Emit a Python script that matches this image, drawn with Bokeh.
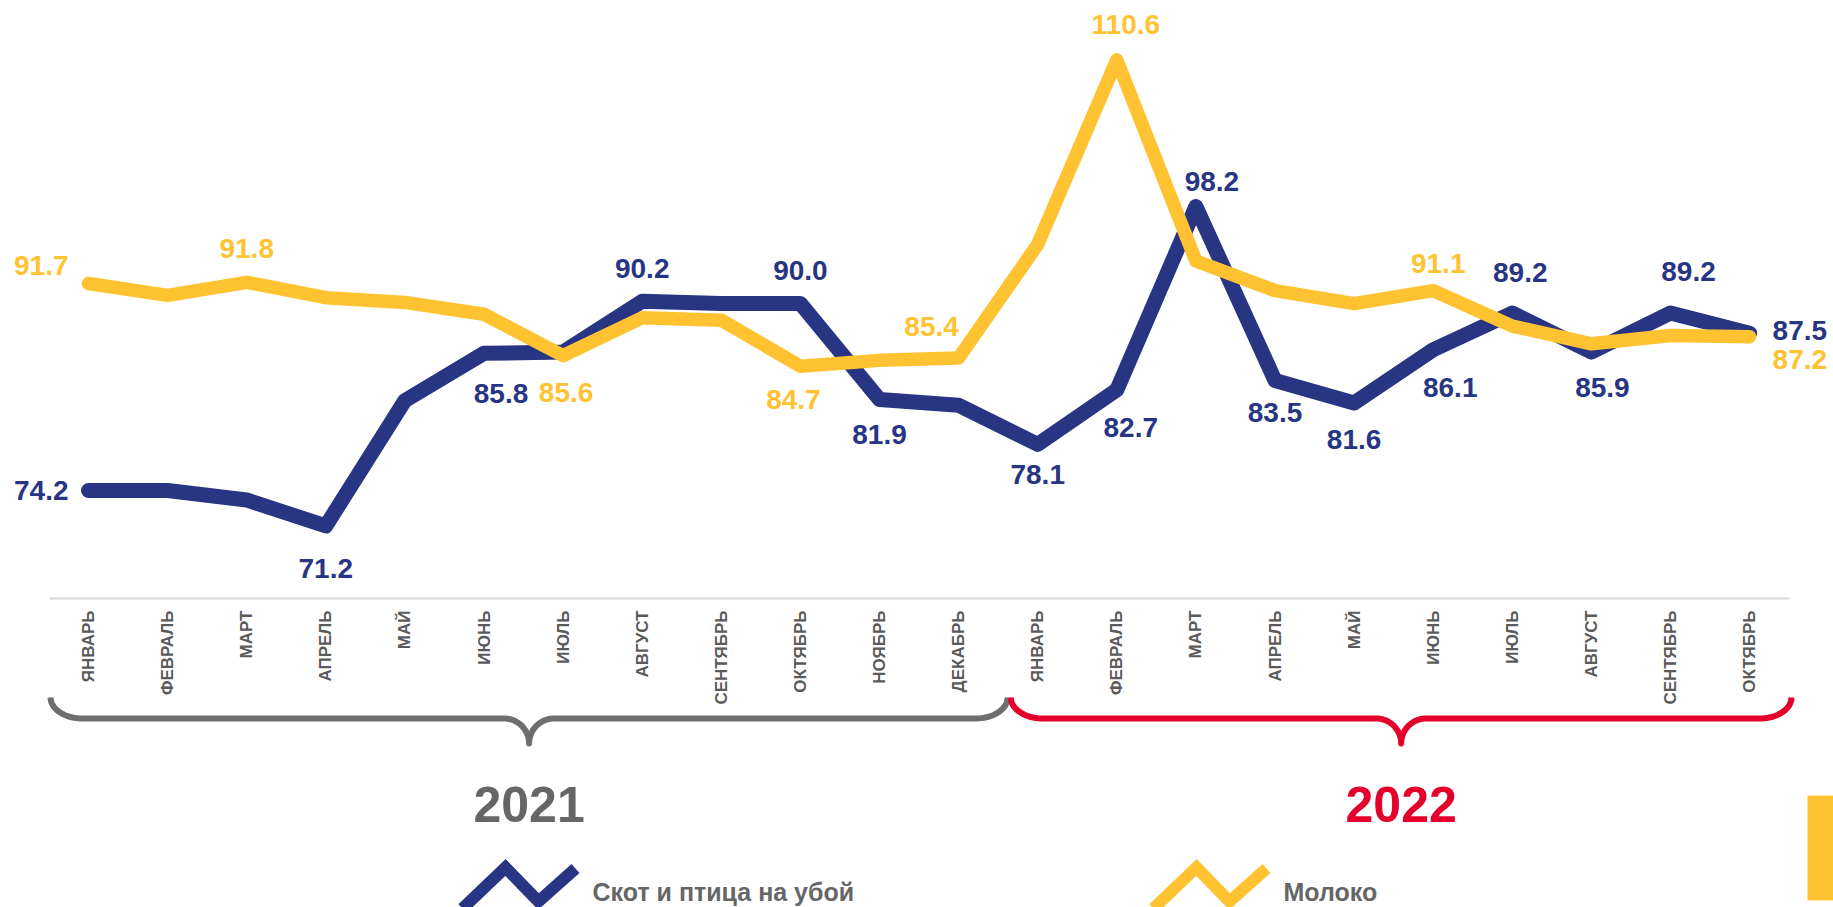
import math
import numpy as np
from bokeh.plotting import figure
from bokeh.models import Range1d
from bokeh.core.properties import value
from bokeh.embed import file_html
from bokeh.resources import INLINE

# ---------------- data ----------------
months = ["ЯНВАРЬ", "ФЕВРАЛЬ", "МАРТ", "АПРЕЛЬ", "МАЙ", "ИЮНЬ", "ИЮЛЬ", "АВГУСТ",
          "СЕНТЯБРЬ", "ОКТЯБРЬ", "НОЯБРЬ", "ДЕКАБРЬ",
          "ЯНВАРЬ", "ФЕВРАЛЬ", "МАРТ", "АПРЕЛЬ", "МАЙ", "ИЮНЬ", "ИЮЛЬ", "АВГУСТ",
          "СЕНТЯБРЬ", "ОКТЯБРЬ"]
years = ["2021", "2022"]
year_month_counts = [12, 10]
series_names = ["Скот и птица на убой", "Молоко"]

livestock = [74.2, 74.2, 73.4, 71.2, 81.8, 85.8, 85.9, 90.2, 90.0, 90.0, 81.9, 81.4,
             78.1, 82.7, 98.2, 83.5, 81.6, 86.1, 89.2, 85.9, 89.2, 87.5]
milk = [91.7, 90.7, 91.8, 90.5, 90.1, 89.1, 85.6, 88.8, 88.6, 84.7, 85.2, 85.4,
        95.0, 110.6, 93.6, 91.1, 90.0, 91.1, 88.1, 86.6, 87.3, 87.2]

# which points carry a value label
livestock_labelled = [0, 3, 5, 7, 9, 10, 12, 13, 14, 15, 16, 17, 18, 19, 20, 21]
milk_labelled = [0, 2, 6, 9, 11, 13, 17, 21]

# ---------------- styles / layout ----------------
BLUE = "#283583"
YELLOW = "#FFC231"
RED = "#E4002B"
GRAY_TXT = "#666666"
GRAY_BRACE = "#6E6E6E"
MONTH_COL = "#5A5A5A"
FONT = "Liberation Sans"

W, H = 1833, 907
X0_PX, STEP = 88.0, 79.1          # page px of first month, px per month
REF_V, REF_PX, PXU = 74.2, 490.0, 11.83  # value -> page px calibration

def px_to_x(sx):   # page px -> data x
    return (sx - X0_PX) / STEP

def py_to_y(sy):   # page px -> data y
    return REF_V - (sy - REF_PX) / PXU

p = figure(width=W, height=H,
           x_range=Range1d(-X0_PX / STEP, (W - X0_PX) / STEP),
           y_range=Range1d(REF_V - (H - REF_PX) / PXU, REF_V + REF_PX / PXU),
           output_backend="svg", toolbar_location=None, min_border=0,
           x_axis_location=None, y_axis_location=None,
           outline_line_color=None, background_fill_color="white")
p.grid.grid_line_color = None

xs = list(range(len(months)))

# ---------------- axis line + month labels ----------------
axis_y = py_to_y(598)
p.line([-0.49, len(months) - 0.5], [axis_y, axis_y], line_color="#D9D9D9", line_width=2)
p.text(x=xs, y=[py_to_y(610)] * len(xs), text=months, angle=math.pi / 2,
       text_align="right", text_baseline="middle", text_color=MONTH_COL,
       text_font=value(FONT), text_font_size="17px", text_font_style="bold")

# ---------------- series lines ----------------
p.line(xs, livestock, line_color=BLUE, line_width=15, line_join="round", line_cap="round")
p.line(xs, milk, line_color=YELLOW, line_width=13.5, line_join="round", line_cap="round")

# ---------------- value labels (pixel offsets from their point) ----------------
lb_dx = [-20, 0, 17, 0, 0, 0, 0, 14, 16, 0, 0, 17, 8, 11, 18, 23]
lb_dy = [0, 43, 40, -33, -33, 35, 30, 38, -25, 32, 37, 38, -41, 35, -42, -3]
lb_al = ["right"] + ["center"] * 14 + ["left"]
lm_dx = [-20, 0, 3, -7, -27, 9, 5, 23]
lm_dy = [-18, -34, 37, 33, -32, -35, -27, 23]
lm_al = ["right"] + ["center"] * 6 + ["left"]

def labels(vals, idx, dx, dy, al, color):
    for k, i in enumerate(idx):
        p.text(x=[i + dx[k] / STEP], y=[vals[i] - dy[k] / PXU], text=[f"{vals[i]:.1f}"],
               text_align=al[k], text_baseline="middle", text_color=color,
               text_font=value(FONT), text_font_size="28px", text_font_style="bold")

labels(livestock, livestock_labelled, lb_dx, lb_dy, lb_al, BLUE)
labels(milk, milk_labelled, lm_dx, lm_dy, lm_al, YELLOW)

# ---------------- year braces ----------------
def brace(xl, xr, top=697, mid=718, tip=743, rx=32, rc=25, n=24):
    ry = mid - top
    cx = (xl + xr) / 2
    t = np.linspace(0, math.pi / 2, n)
    px, py = [], []
    px += list(xl + rx - rx * np.cos(t)); py += list(top + ry * np.sin(t))
    px += list(cx - rc + rc * np.sin(t)); py += list(tip - (tip - mid) * np.cos(t))
    t2 = t[::-1]
    px += list(cx + rc - rc * np.sin(t2)); py += list(tip - (tip - mid) * np.cos(t2))
    px += list(xr - rx + rx * np.cos(t2)); py += list(top + ry * np.sin(t2))
    return [px_to_x(v) for v in px], [py_to_y(v) for v in py], cx

brace_cols = [GRAY_BRACE, RED]
year_cols = [GRAY_TXT, RED]
edges = [(-0.48, 11.62), (11.66, 21.53)]
for k, yr in enumerate(years):
    a, b = edges[k]
    xl = X0_PX + a * STEP
    xr = X0_PX + b * STEP
    bx, by, cx = brace(xl, xr)
    p.line(bx, by, line_color=brace_cols[k], line_width=6, line_join="round")
    p.text(x=[px_to_x(cx)], y=[py_to_y(804)], text=[yr], text_align="center",
           text_baseline="middle", text_color=year_cols[k], text_font=value(FONT),
           text_font_size="50px", text_font_style="bold")

# ---------------- legend ----------------
def legend_item(x0, color, label):
    ix = [x0 - 3, x0 + 40, x0 + 73, x0 + 110]
    iy = [908, 867, 901, 868]
    p.line([px_to_x(v) for v in ix], [py_to_y(v) for v in iy], line_color=color,
           line_width=12, line_join="miter")
    p.text(x=[px_to_x(x0 + 127)], y=[py_to_y(891)], text=[label], text_align="left",
           text_baseline="middle", text_color=GRAY_TXT, text_font=value(FONT),
           text_font_size="25px", text_font_style="bold")

legend_item(465, BLUE, series_names[0])
legend_item(1156, YELLOW, series_names[1])

# decorative yellow tab at the right edge
p.quad(left=[px_to_x(1807)], right=[px_to_x(1840)], top=[py_to_y(795)],
       bottom=[py_to_y(900)], fill_color=YELLOW, line_color=None)

open("out.html", "w").write(file_html(p, INLINE))
